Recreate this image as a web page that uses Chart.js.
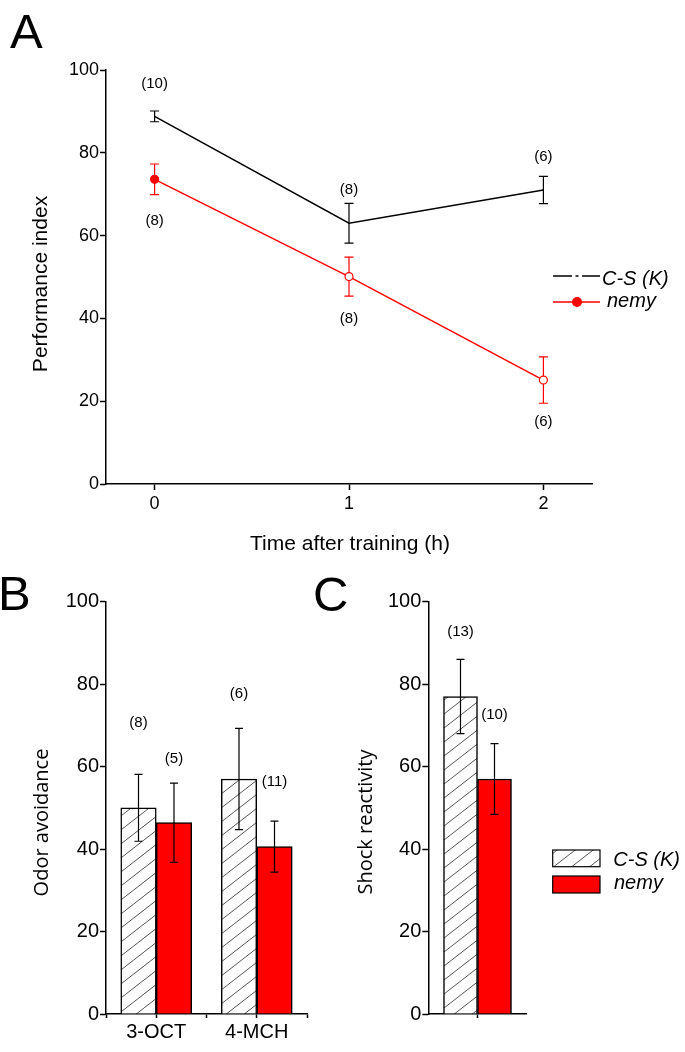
<!DOCTYPE html>
<html>
<head>
<meta charset="utf-8">
<script src="https://cdn.jsdelivr.net/npm/chart.js@4.4.1/dist/chart.umd.min.js"></script>
<style>
  html, body { margin: 0; padding: 0; background: #fff; }
  body { width: 685px; height: 1052px; position: relative; overflow: hidden; font-family: "Liberation Sans", Arial, sans-serif; }
  canvas { position: absolute; }
  .panel { position: absolute; font-size: 49px; line-height: 1; color: #000; }
</style>
</head>
<body>
<div class="panel" style="left:10px;top:7px">A</div>
<div class="panel" style="left:-2px;top:569px">B</div>
<div class="panel" style="left:313px;top:570px">C</div>
<canvas id="chartA" width="685" height="560" style="left:0;top:0"></canvas>
<canvas id="chartB" width="340" height="492" style="left:0;top:560px"></canvas>
<canvas id="chartC" width="385" height="492" style="left:300px;top:560px"></canvas>
<script>
// --- A: performance index after training
const timeH = [0, 1, 2];
const csK_PI = [88.8, 63.0, 71.0];
const csK_PI_err = [1.3, 4.8, 3.3];
const csK_PI_n = [10, 8, 6];
const nemy_PI = [73.6, 50.1, 25.1];
const nemy_PI_err = [3.7, 4.7, 5.6];
const nemy_PI_n = [8, 8, 6];

// --- B: odor avoidance
const odors = ['3-OCT', '4-MCH'];
const csK_odor = [50.0, 57.0];
const csK_odor_err = [8.1, 12.3];
const csK_odor_n = [8, 6];
const nemy_odor = [46.4, 40.6];
const nemy_odor_err = [9.6, 6.2];
const nemy_odor_n = [5, 11];
// heights (axis units) where the n labels sit
const csK_odor_nAt = [70.6, 77.6];
const nemy_odor_nAt = [61.9, 56.4];

// --- C: shock reactivity
const csK_shock = [77.0];
const csK_shock_err = [9.0];
const csK_shock_n = [13];
const nemy_shock = [57.0];
const nemy_shock_err = [8.6];
const nemy_shock_n = [10];
const csK_shock_nAt = [92.7];
const nemy_shock_nAt = [72.5];

const RED = '#ff0000';
const SANS = '"Liberation Sans", Arial, sans-serif';
const OPEN = '"Open Sans", "Liberation Sans", sans-serif';

Chart.defaults.font.family = SANS;
Chart.defaults.color = '#000';
Chart.defaults.animation = false;
Chart.defaults.plugins.legend.display = false;
Chart.defaults.plugins.tooltip.enabled = false;

function hatch(canvasId) {
  const c = document.createElement('canvas');
  c.width = 18; c.height = 14;
  const g = c.getContext('2d');
  g.fillStyle = '#fff';
  g.fillRect(0, 0, 18, 14);
  g.strokeStyle = '#555';
  g.lineWidth = 1;
  g.beginPath();
  for (const dx of [-18, 0, 18]) { g.moveTo(dx, 14); g.lineTo(dx + 18, 0); }
  g.stroke();
  return document.getElementById(canvasId).getContext('2d').createPattern(c, 'repeat');
}

function yAxis(size) {
  return {
    min: 0, max: 100,
    border: { display: true, color: '#000', width: 1.5 },
    grid: { drawOnChartArea: false, drawTicks: true, tickLength: 6, tickColor: '#000', tickWidth: 1.5 },
    ticks: { stepSize: 20, padding: 1, font: { size: size }, color: '#000' }
  };
}

function xBarAxis(min, max, tickVals, labels) {
  return {
    type: 'linear', min: min, max: max, offset: false,
    border: { display: true, color: '#000', width: 1.5 },
    grid: { offset: false, drawOnChartArea: false, drawTicks: true, tickLength: 4, tickColor: '#000', tickWidth: 1.5 },
    afterBuildTicks: s => { s.ticks = tickVals.map(v => ({ value: v })); },
    ticks: {
      autoSkip: false, maxRotation: 0, padding: 2, font: { size: 20 }, color: '#000',
      callback: v => (Number.isInteger(v) && labels[v] !== undefined) ? labels[v] : ''
    }
  };
}

function drawErrorBars(chart, cap) {
  const ctx = chart.ctx, ys = chart.scales.y;
  chart.data.datasets.forEach((ds, i) => {
    const meta = chart.getDatasetMeta(i);
    ctx.save();
    ctx.strokeStyle = ds.errColor;
    ctx.lineWidth = 1.2;
    meta.data.forEach((el, j) => {
      const v = ds.data[j].y, e = ds.errors[j];
      const x = el.x, top = ys.getPixelForValue(v + e), bot = ys.getPixelForValue(v - e);
      ctx.beginPath();
      ctx.moveTo(x, top); ctx.lineTo(x, bot);
      ctx.moveTo(x - cap, top); ctx.lineTo(x + cap, top);
      ctx.moveTo(x - cap, bot); ctx.lineTo(x + cap, bot);
      ctx.stroke();
    });
    ctx.restore();
  });
}

function drawCounts(chart) {
  const ctx = chart.ctx, ys = chart.scales.y;
  ctx.save();
  ctx.font = '15px ' + SANS;
  ctx.fillStyle = '#000';
  ctx.textAlign = 'center';
  ctx.textBaseline = 'middle';
  chart.data.datasets.forEach((ds, i) => {
    const meta = chart.getDatasetMeta(i);
    meta.data.forEach((el, j) => {
      const y = ds.nAt ? ys.getPixelForValue(ds.nAt[j]) : el.y + ds.nOffset;
      ctx.fillText('(' + ds.counts[j] + ')', el.x, y);
    });
  });
  ctx.restore();
}

function drawText(ctx, text, x, y, font, rot) {
  ctx.save();
  ctx.font = font;
  ctx.fillStyle = '#000';
  ctx.textAlign = 'center';
  ctx.textBaseline = 'middle';
  ctx.translate(x, y);
  if (rot) ctx.rotate(-Math.PI / 2);
  ctx.fillText(text, 0, 0);
  ctx.restore();
}

function pinArea(chart, pad, box) {
  for (let k = 0; k < 3; k++) {
    const a = chart.chartArea;
    pad.left += box.left - a.left;
    pad.top += box.top - a.top;
    pad.right += a.right - box.right;
    pad.bottom += a.bottom - box.bottom;
    chart.update();
  }
}

// ---------------- Chart A ----------------
const padA = { left: 0, top: 0, right: 0, bottom: 0 };
const chartA = new Chart(document.getElementById('chartA'), {
  type: 'line',
  data: {
    datasets: [
      {
        label: 'C-S (K)',
        data: timeH.map((t, i) => ({ x: t, y: csK_PI[i] })),
        borderColor: '#000', borderWidth: 1.5, pointRadius: 0,
        errors: csK_PI_err, errColor: '#000', counts: csK_PI_n, nOffset: -33
      },
      {
        label: 'nemy',
        data: timeH.map((t, i) => ({ x: t, y: nemy_PI[i] })),
        borderColor: RED, borderWidth: 1.5,
        pointRadius: 4, pointBorderWidth: 1.2, pointBorderColor: RED,
        pointBackgroundColor: c => c.dataIndex === 0 ? RED : '#fff',
        errors: nemy_PI_err, errColor: RED, counts: nemy_PI_n, nOffset: 42
      }
    ]
  },
  options: {
    responsive: false,
    layout: { padding: padA },
    scales: {
      x: {
        type: 'linear', min: -0.25, max: 2.25,
        border: { display: true, color: '#000', width: 1.5 },
        grid: { drawOnChartArea: false, drawTicks: true, tickLength: 6, tickColor: '#000', tickWidth: 1.5 },
        afterBuildTicks: s => { s.ticks = timeH.map(v => ({ value: v })); },
        ticks: { padding: 3, font: { size: 18 }, color: '#000' }
      },
      y: yAxis(18)
    }
  },
  plugins: [{
    id: 'extrasA',
    beforeDatasetsDraw: c => drawErrorBars(c, 4.5),
    afterDatasetsDraw: c => drawCounts(c),
    afterDraw(c) {
      const ctx = c.ctx;
      drawText(ctx, 'Performance index', 41, 284, '21px ' + SANS, true);
      drawText(ctx, 'Time after training (h)', 350, 544, '21px ' + SANS, false);
      // legend
      ctx.save();
      ctx.strokeStyle = '#000'; ctx.lineWidth = 1.5;
      ctx.beginPath();
      ctx.moveTo(553, 276); ctx.lineTo(572, 276);
      ctx.moveTo(575.5, 276); ctx.lineTo(578.5, 276);
      ctx.moveTo(582, 276); ctx.lineTo(600, 276);
      ctx.stroke();
      ctx.strokeStyle = RED;
      ctx.beginPath(); ctx.moveTo(553, 302); ctx.lineTo(600, 302); ctx.stroke();
      ctx.fillStyle = RED;
      ctx.beginPath(); ctx.arc(577, 302, 5, 0, Math.PI * 2); ctx.fill();
      ctx.fillStyle = '#000';
      ctx.font = 'italic 20px ' + SANS;
      ctx.textBaseline = 'alphabetic';
      ctx.fillText(c.data.datasets[0].label, 602, 284.5);
      ctx.fillText(c.data.datasets[1].label, 607, 307);
      ctx.restore();
    }
  }]
});
pinArea(chartA, padA, { left: 106, right: 592, top: 70, bottom: 484 });

// ---------------- Chart B ----------------
const hatchB = hatch('chartB');
const padB = { left: 0, top: 0, right: 0, bottom: 0 };
const chartB = new Chart(document.getElementById('chartB'), {
  type: 'bar',
  data: {
    datasets: [
      {
        label: 'C-S (K)',
        data: odors.map((_, i) => ({ x: i, y: csK_odor[i] })),
        backgroundColor: hatchB, borderColor: '#000', borderWidth: 1.5, barThickness: 35.5,
        errors: csK_odor_err, errColor: '#000', counts: csK_odor_n, nAt: csK_odor_nAt
      },
      {
        label: 'nemy',
        data: odors.map((_, i) => ({ x: i, y: nemy_odor[i] })),
        backgroundColor: RED, borderColor: '#000', borderWidth: 1.5, barThickness: 35.5,
        errors: nemy_odor_err, errColor: '#000', counts: nemy_odor_n, nAt: nemy_odor_nAt
      }
    ]
  },
  options: {
    responsive: false,
    layout: { padding: padB },
    scales: {
      x: xBarAxis(-0.5, 1.5, [-0.5, 0, 0.5, 1, 1.5], odors),
      y: yAxis(20)
    }
  },
  plugins: [{
    id: 'extrasB',
    afterDatasetsDraw(c) { drawErrorBars(c, 4); drawCounts(c); },
    afterDraw(c) { drawText(c.ctx, 'Odor avoidance', 42, 262.5, '20px ' + OPEN, true); }
  }]
});
pinArea(chartB, padB, { left: 106, right: 307, top: 41.7, bottom: 454 });

// ---------------- Chart C ----------------
const hatchC = hatch('chartC');
const padC = { left: 0, top: 0, right: 0, bottom: 0 };
const chartC = new Chart(document.getElementById('chartC'), {
  type: 'bar',
  data: {
    datasets: [
      {
        label: 'C-S (K)',
        data: csK_shock.map((v, i) => ({ x: i, y: v })),
        backgroundColor: hatchC, borderColor: '#000', borderWidth: 1.5, barThickness: 34,
        errors: csK_shock_err, errColor: '#000', counts: csK_shock_n, nAt: csK_shock_nAt
      },
      {
        label: 'nemy',
        data: nemy_shock.map((v, i) => ({ x: i, y: v })),
        backgroundColor: RED, borderColor: '#000', borderWidth: 1.5, barThickness: 34,
        errors: nemy_shock_err, errColor: '#000', counts: nemy_shock_n, nAt: nemy_shock_nAt
      }
    ]
  },
  options: {
    responsive: false,
    layout: { padding: padC },
    scales: {
      x: xBarAxis(-0.5, 0.5, [0], []),
      y: yAxis(20)
    }
  },
  plugins: [{
    id: 'extrasC',
    afterDatasetsDraw(c) { drawErrorBars(c, 4); drawCounts(c); },
    afterDraw(c) {
      const ctx = c.ctx;
      drawText(ctx, 'Shock reactivity', 66, 262, '20px ' + OPEN, true);
      // legend
      ctx.save();
      ctx.lineWidth = 1.2; ctx.strokeStyle = '#000';
      ctx.fillStyle = c.data.datasets[0].backgroundColor;
      ctx.fillRect(252.7, 290, 47.3, 16.7);
      ctx.strokeRect(252.7, 290, 47.3, 16.7);
      ctx.fillStyle = c.data.datasets[1].backgroundColor;
      ctx.fillRect(252.7, 316, 47.3, 17);
      ctx.strokeRect(252.7, 316, 47.3, 17);
      ctx.fillStyle = '#000';
      ctx.font = 'italic 20px ' + SANS;
      ctx.textBaseline = 'alphabetic';
      ctx.fillText(c.data.datasets[0].label, 313.3, 306);
      ctx.fillText(c.data.datasets[1].label, 314, 329.3);
      ctx.restore();
    }
  }]
});
pinArea(chartC, padC, { left: 128.3, right: 226.7, top: 41.7, bottom: 454 });
</script>
</body>
</html>
